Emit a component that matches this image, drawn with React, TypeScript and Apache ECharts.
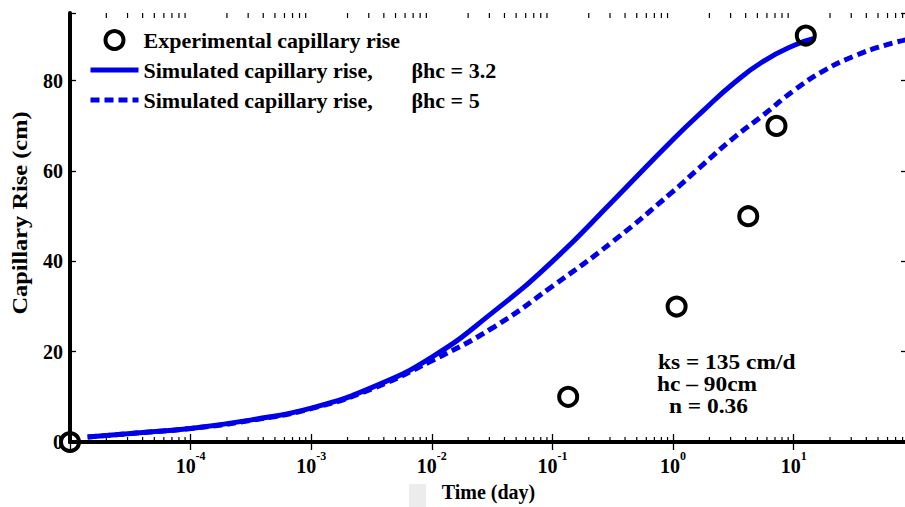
import React, { useEffect, useRef } from 'react';
import * as echarts from 'echarts';

// Experimental capillary rise (time in days, rise in cm)
const expTime = [1e-5, 0.135, 1.07, 4.2, 7.2, 12.6];
const expRise = [0, 10, 30, 50, 70, 90];

// Simulated, beta*hc = 3.2
const simTime32 = [1.4e-5, 3.2e-5, 1e-4, 3.2e-4, 1e-3, 3.2e-3, 1e-2, 3.2e-2, 0.1, 0.32, 1, 1.8, 3.2, 5.6, 10, 15];
const simRise32 = [1.1, 1.9, 3.0, 4.9, 7.5, 12.1, 18.8, 28.7, 40.0, 53.5, 67, 73.5, 79.5, 84.3, 87.8, 89.4];

// Simulated, beta*hc = 5
const simTime5 = [1.4e-5, 3.2e-5, 1e-4, 3.2e-4, 1e-3, 3.2e-3, 1e-2, 3.2e-2, 0.1, 0.32, 1, 1.8, 3.2, 5.6, 10, 18, 32, 56, 87];
const simRise5 = [1.1, 1.9, 3.0, 4.8, 7.4, 11.8, 18.0, 25.3, 34.5, 44.5, 55.5, 61.6, 67.4, 72.4, 77.8, 82.3, 85.5, 87.8, 89.1];

// Axis ranges and ticks
const xMin = 1e-5;
const xMax = 87;
const yMin = 0;
const yMax = 95;
const yInterval = 20;
const minorTickTimes = [
  2e-5, 3e-5, 4e-5, 5e-5, 6e-5, 7e-5, 8e-5, 9e-5,
  2e-4, 3e-4, 4e-4, 5e-4, 6e-4, 7e-4, 8e-4, 9e-4,
  2e-3, 3e-3, 4e-3, 5e-3, 6e-3, 7e-3, 8e-3, 9e-3,
  2e-2, 3e-2, 4e-2, 5e-2, 6e-2, 7e-2, 8e-2, 9e-2,
  0.2, 0.3, 0.4, 0.5, 0.6, 0.7, 0.8, 0.9,
  2, 3, 4, 5, 6, 7, 8, 9,
  20, 30, 40, 50, 60, 70, 80,
];

const nameExp = 'Experimental capillary rise';
const name32 = 'Simulated capillary rise, βhc = 3.2';
const name5 = 'Simulated capillary rise, βhc = 5';
const annotations = ['ks = 135 cm/d', 'hc – 90cm', 'n = 0.36'];

const FONT = '"Liberation Serif", "Times New Roman", serif';
const BLUE = '#0000e8';
const DASH = [9, 5];

export default function App() {
  const ref = useRef<HTMLDivElement>(null);

  useEffect(() => {
    if (!ref.current) return;
    const chart = echarts.init(ref.current, null, { renderer: 'svg' });

    const xLabelFormatter = (v: number) => {
      const lg = Math.log10(v);
      const e = Math.round(lg);
      if (Math.abs(lg - e) > 1e-6 || e <= -5) return '';
      return `{b|10}{s|${e}}`;
    };

    const commonX = {
      type: 'log' as const,
      logBase: 10,
      min: xMin,
      max: xMax,
      splitNumber: 7,
      splitLine: { show: false },
      axisLine: { show: true, lineStyle: { color: '#000', width: 4 } },
      axisTick: { show: true, inside: true, length: 8, lineStyle: { color: '#000', width: 1.3 } },
    };
    const commonY = {
      type: 'value' as const,
      min: yMin,
      max: yMax,
      interval: yInterval,
      splitLine: { show: false },
      axisLine: { show: true, lineStyle: { color: '#000', width: 4 } },
      axisTick: { show: true, inside: true, length: 6, lineStyle: { color: '#000', width: 1.3 } },
    };

    const noSymbol = { opacity: 0 };

    chart.setOption({
      animation: false,
      backgroundColor: '#fff',
      grid: { left: 70, right: -2, top: 13, bottom: 65, outerBoundsMode: 'none', containLabel: false },
      xAxis: [
        {
          ...commonX,
          position: 'bottom',
          name: 'Time (day)',
          nameLocation: 'middle',
          nameGap: 40,
          nameTextStyle: { fontFamily: FONT, fontWeight: 'bold', fontSize: 20, color: '#000', lineHeight: 20 },
          axisLabel: {
            show: true,
            margin: 8,
            formatter: xLabelFormatter,
            rich: {
              b: { fontFamily: FONT, fontWeight: 'bold', fontSize: 20, color: '#000', lineHeight: 26, verticalAlign: 'bottom' },
              s: { fontFamily: FONT, fontWeight: 'bold', fontSize: 12, color: '#000', lineHeight: 26, verticalAlign: 'top' },
            },
          },
        },
        {
          ...commonX,
          position: 'top',
          axisLabel: { show: false },
        },
      ],
      yAxis: [
        {
          ...commonY,
          position: 'left',
          axisLabel: {
            show: true,
            margin: 7,
            fontFamily: FONT,
            fontWeight: 'bold',
            fontSize: 20,
            color: '#000',
            formatter: (v: number) => (v % yInterval === 0 ? String(v) : ''),
          },
        },
        {
          ...commonY,
          position: 'right',
          axisLabel: { show: false },
        },
      ],
      legend: {
        show: true,
        orient: 'vertical',
        left: 83,
        top: 24,
        itemWidth: 48,
        itemHeight: 18,
        itemGap: 8,
        selectedMode: false,
        data: [
          {
            name: nameExp,
            icon: 'circle',
            itemStyle: { color: 'rgba(0,0,0,0)', borderColor: '#000', borderWidth: 4, opacity: 1 },
          },
          { name: name32, itemStyle: noSymbol, lineStyle: { width: 5, color: BLUE } },
          { name: name5, itemStyle: noSymbol, lineStyle: { width: 5, color: BLUE, type: DASH } },
        ],
        textStyle: {
          fontFamily: FONT,
          fontWeight: 'bold',
          fontSize: 22,
          lineHeight: 22,
          color: '#000',
          rich: {
            a: { fontFamily: FONT, fontWeight: 'bold', fontSize: 22, color: '#000', width: 268 },
            c: { fontFamily: FONT, fontWeight: 'bold', fontSize: 22, color: '#000' },
          },
        },
        formatter: (name: string) => {
          if (name.startsWith('Simulated')) {
            const parts = name.split(', ');
            return `{a|${parts[0]},}{c|${parts[1]}}`;
          }
          return name;
        },
      },
      graphic: [
        {
          type: 'text',
          x: 20,
          y: 213,
          rotation: Math.PI / 2,
          scaleX: 1.22,
          style: {
            text: 'Capillary Rise (cm)',
            font: `bold 20px ${FONT}`,
            fill: '#000',
            align: 'center',
            verticalAlign: 'middle',
          },
        },
        {
          type: 'text',
          x: 658,
          y: 363,
          scaleX: 1.17,
          style: { text: annotations[0], font: `bold 20px ${FONT}`, fill: '#000', verticalAlign: 'middle' },
        },
        {
          type: 'text',
          x: 657,
          y: 385,
          scaleX: 1.17,
          style: { text: annotations[1], font: `bold 20px ${FONT}`, fill: '#000', verticalAlign: 'middle' },
        },
        {
          type: 'text',
          x: 669,
          y: 407,
          scaleX: 1.17,
          style: { text: annotations[2], font: `bold 20px ${FONT}`, fill: '#000', verticalAlign: 'middle' },
        },
        {
          type: 'rect',
          shape: { x: 409, y: 484, width: 17, height: 23 },
          style: { fill: '#ececec' },
          z: -1,
        },
      ],
      series: [
        {
          name: 'minor ticks',
          type: 'custom',
          xAxisIndex: 0,
          yAxisIndex: 0,
          silent: true,
          clip: false,
          encode: { x: 0, y: 1 },
          data: minorTickTimes.map((t) => [t, yMin]),
          renderItem: (_params: any, api: any) => {
            const t = api.value(0);
            const b = api.coord([t, yMin]);
            const tp = api.coord([t, yMax]);
            const style = { stroke: '#000', lineWidth: 1.2 };
            return {
              type: 'group',
              children: [
                { type: 'line', shape: { x1: b[0], y1: b[1], x2: b[0], y2: b[1] - 5 }, style },
                { type: 'line', shape: { x1: tp[0], y1: tp[1], x2: tp[0], y2: tp[1] + 5 }, style },
              ],
            };
          },
          z: 1,
        },
        {
          name: name32,
          type: 'line',
          data: simTime32.map((t, i) => [t, simRise32[i]]),
          symbol: 'none',
          showSymbol: false,
          smooth: 0.5,
          lineStyle: { color: BLUE, width: 5 },
          itemStyle: { color: BLUE },
          z: 3,
        },
        {
          name: name5,
          type: 'line',
          data: simTime5.map((t, i) => [t, simRise5[i]]),
          symbol: 'none',
          showSymbol: false,
          smooth: 0.5,
          lineStyle: { color: BLUE, width: 5, type: DASH },
          itemStyle: { color: BLUE },
          z: 3,
        },
        {
          name: nameExp,
          type: 'scatter',
          data: expTime.map((t, i) => [t, expRise[i]]),
          symbol: 'circle',
          symbolSize: 18,
          clip: false,
          itemStyle: { color: 'rgba(0,0,0,0)', borderColor: '#000', borderWidth: 4, opacity: 1 },
          z: 5,
        },
      ],
    });

    return () => chart.dispose();
  }, []);

  return (
    <div
      ref={ref}
      style={{ position: 'absolute', left: 0, top: 0, width: 905, height: 507, background: '#fff' }}
    />
  );
}
